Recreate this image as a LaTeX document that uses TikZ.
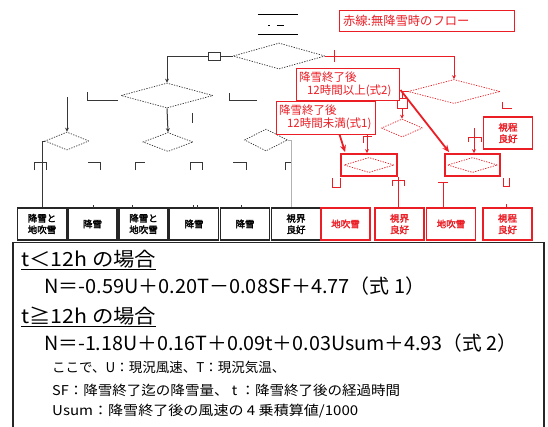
\documentclass[tikz,border=0pt]{standalone}
\usepackage{graphicx}
\usepackage{fontspec}
\newfontfamily\jp{Noto Sans CJK JP}
\newfontfamily\jpbf{Noto Sans CJK JP}[FakeBold=2.2]
\usetikzlibrary{shapes.geometric,arrows.meta,calc}
\definecolor{rd}{RGB}{235,30,38}
\definecolor{ln}{RGB}{55,55,55}
\newcommand{\fitto}[2]{\resizebox{#1}{\height}{#2}}
\begin{document}
\begin{tikzpicture}[x=1pt,y=-1pt,
  every node/.style={inner sep=0pt, font=\jp},
  dia/.style={diamond, draw=ln, line width=0.7pt, dash pattern=on 1.3pt off 1.3pt, inner sep=0pt},
  rdia/.style={dia, draw=rd},
  bx/.style={draw=black!85, line width=1.3pt, minimum width=49pt, minimum height=32pt, align=center, font=\jpbf\fontsize{9.5}{11.5}\selectfont},
  rbx/.style={bx, draw=rd, text=rd},
  wire/.style={draw=ln, line width=1pt},
  rwire/.style={draw=rd, line width=1pt},
  arr/.style={-{Stealth[length=4pt,width=4pt]}},
  bigarr/.style={-{Stealth[length=7pt,width=6pt]}},
  lbl/.style={draw=ln, line width=0.9pt},
  rlbl/.style={draw=rd, line width=0.9pt},
  callout/.style={draw=rd, line width=1pt, fill=white, text=rd, align=left, inner xsep=3pt, font=\jp\fontsize{11.5}{13}\selectfont},
  big/.style={anchor=base west, font=\jp\fontsize{19.5}{20}\selectfont},
  small/.style={anchor=base west, font=\jp\fontsize{13.5}{15}\selectfont}
]
\useasboundingbox (0,0) rectangle (548,426);
\clip (0,0) rectangle (548,426);
\fill[white] (0,0) rectangle (548,426);

% top bar
\node[minimum width=40pt, minimum height=19pt] (tb) at (278,24.5) {};
\draw[line width=1.2pt] (tb.north west) -- (tb.north east) (tb.south west) -- (tb.south east);
\draw[line width=0.8pt] (268,25) -- (270,25) (277,25) -- (284,25);

% legend
\node[draw=rd, line width=1pt, text=rd, minimum height=21pt, text width=167pt, align=left, inner xsep=4pt, font=\jp\fontsize{12.3}{13}\selectfont] (leg) at (426.5,21) {赤線:無降雪時のフロー};

% diamonds
\node[dia, minimum width=92pt, minimum height=26pt] (d0) at (279,56) {};
\node[dia, minimum width=92pt, minimum height=25pt] (d1) at (167,95.5) {};
\node[dia, minimum width=50pt, minimum height=19pt] (d2) at (168,142) {};
\node[dia, minimum width=44pt, minimum height=18pt] (d3) at (67,141) {};
\node[dia, minimum width=43pt, minimum height=22pt] (d4) at (266,140) {};
\node[rdia, minimum width=92pt, minimum height=24pt] (r1) at (454,91.5) {};
\node[rdia, minimum width=41pt, minimum height=18pt] (r2) at (402,128) {};
\node[draw=rd, line width=1.8pt, minimum width=56pt, minimum height=22pt] (rc) at (369,165) {};
\node[rdia, minimum width=50pt, minimum height=15pt] (rcd) at (rc) {};
\node[draw=rd, line width=1.8pt, minimum width=55pt, minimum height=22pt] (rdb) at (472.5,165) {};
\node[rdia, minimum width=50pt, minimum height=15pt] (rdd) at (rdb) {};

% bottom boxes
\node[bx] (b1) at (42,224) {降雪と\\地吹雪};
\node[bx] (b2) at (92.5,224) {降雪};
\node[bx] (b3) at (143.5,224) {降雪と\\地吹雪};
\node[bx] (b4) at (194,224) {降雪};
\node[bx] (b5) at (245,224) {降雪};
\node[bx] (b6) at (296,224) {視界\\良好};
\node[rbx] (b7) at (345.5,224) {地吹雪};
\node[rbx] (b8) at (399.5,224) {視界\\良好};
\node[rbx] (b9) at (451,224) {地吹雪};
\node[rbx] (b10) at (507.5,224) {視程\\良好};
\node[rbx] (vg) at (508,133) {視程\\良好};

% black connectors
\draw[wire,arr] (d0.west) -| (d1.north);
\node[draw=ln, line width=0.9pt, fill=white, minimum width=12pt, minimum height=8pt] (s0) at (214,56) {};
\draw[lbl] (87,92) -- (87,100) -- (118,100);
\draw[lbl] (229,93) -- (229,100) -- (257,100);
\coordinate (p1) at (67,97);
\draw[wire,arr] (p1) -- (d3.north);
\draw[wire,arr] (d1.south) -- (d2.north);
\draw[lbl] (192,113) -- (192,123);
\draw[wire] (d3.west) -| (b1.north);
\draw[draw=black!30, line width=1pt] (d4.east) -| ($(b6.north)+(-5,0)$);
\draw[lbl] (34,170) -- (34,162) -- (46,162) -- (46,170);
\draw[lbl] (88,162) -- (100,162) -- (100,170);
\draw[lbl] (135,170) -- (135,162) -- (145,162);
\draw[lbl] (190,170) -- (190,162) -- (202,162) -- (202,170);
\draw[lbl] (233,162) -- (246,162) -- (246,170);
\draw[lbl] (285,170) -- (285,162) -- (291,162);
\draw[lbl] (93,205) -- (93,208) (132,205) -- (132,208) (193,205) -- (193,208) (197,205) -- (197,208) (241,205) -- (241,208);

% red connectors
\draw[rwire,arr] (d0.east) -| (r1.north);
\draw[rwire] (334,50) -- (334,62);
\draw[rwire,arr] (r1.west) -| (r2.north);
\node[draw=rd, line width=0.9pt, fill=white, minimum width=10pt, minimum height=10pt] (s1) at (402,103) {};
\draw[rlbl] (502,102) -- (502,108) -- (512,108);
\coordinate (q1) at (367,135);
\draw[rwire,arr] (q1) -- (q1 |- rc.north);
\draw[rlbl] (363,143) -- (363,136) -- (372,136);
\coordinate (q2) at (474,128);
\draw[rwire,arr] (q2) -- (q2 |- rdb.north);
\draw[rlbl] (468,142) -- (468,137) -- (481,137) -- (481,142);
\draw[rlbl] (332,178) -- (332,187) -- (340,187) -- (340,178);
\draw[rwire] ([xshift=1pt]rc.south east) -- ([xshift=1pt]rc.south east |- b8.north);
\draw[rlbl] (392,186) -- (392,180) -- (404,180) -- (404,186);
\coordinate (q4) at (443,182);
\draw[rwire] (q4) -- (q4 |- b9.north);
\draw[rlbl] (438,182) -- (448,182);
\draw[rlbl] (503,178) -- (503,186) -- (509,186) -- (509,178);
\draw[rlbl] (506,204) -- (506,208);

% callouts
\node[callout, minimum height=32pt, text width=97pt] (c2) at (347.5,84) {降雪終了後\\\hspace*{0.7em}12時間以上(式2)};
\node[callout, minimum height=33pt, text width=93pt] (c1) at (325.5,117.5) {降雪終了後\\\hspace*{0.7em}12時間未満(式1)};
\draw[rd, line width=1.8pt, bigarr] ($(c2.east)+(1,6)$) -- ($(rdb.north west)+(5,-1)$);
\draw[rd, line width=1.8pt, bigarr] ($(c1.south west)+(64,0)$) -- ($(rc.north west)+(5,-1)$);

% formula box
\node[draw=black!85, line width=1.8pt, fill=white, minimum width=531pt, minimum height=200pt, anchor=north west] (fb) at (12,241.5) {};
\node[big] (h1) at (21,266) {\fitto{135pt}{t＜12h の場合}};
\draw[line width=1pt] ([yshift=-3.5pt]h1.base west) -- ([yshift=-3.5pt]h1.base east);
\node[big] (f1) at (44,293) {\fitto{381pt}{N＝-0.59U＋0.20T－0.08SF＋4.77（式 1）}};
\node[big] (h2) at (21,323) {\fitto{135pt}{t≧12h の場合}};
\draw[line width=1pt] ([yshift=-3.5pt]h2.base west) -- ([yshift=-3.5pt]h2.base east);
\node[big] (f2) at (44,350) {\fitto{473pt}{N＝-1.18U＋0.16T＋0.09t＋0.03Usum＋4.93（式 2）}};
\node[small] (t1) at (52,372) {ここで、U：現況風速、T：現況気温、};
\node[small] (t2) at (52,395.5) {\fitto{348pt}{SF：降雪終了迄の降雪量、 t ：降雪終了後の経過時間}};
\node[small] (t3) at (52,415) {\fitto{306pt}{Usum：降雪終了後の風速の 4 乗積算値/1000}};
\end{tikzpicture}
\end{document}
